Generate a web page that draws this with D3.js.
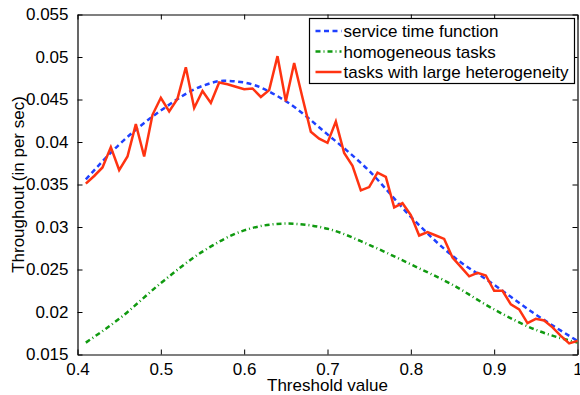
<!DOCTYPE html>
<html>
<head>
<meta charset="utf-8">
<script src="https://cdnjs.cloudflare.com/ajax/libs/d3/7.8.5/d3.min.js"></script>
<style>
body { margin: 0; background: #fff; }
svg { display: block; font-family: "Liberation Sans", Arial, sans-serif; }
</style>
</head>
<body>
<svg id="chart"></svg>
<script>
// threshold values for the measured (noisy) series, 0.41 .. 1.00
var heteroX = d3.range(41, 101).map(function(d){ return d / 100; });
var heteroY = [
  0.0351, 0.0360, 0.0370, 0.0394, 0.0367, 0.0383, 0.0421, 0.0383, 0.0432, 0.0452,
  0.0436, 0.0451, 0.0488, 0.0440, 0.0460, 0.0446, 0.0470, 0.0468, 0.0465, 0.0462,
  0.0463, 0.0453, 0.0461, 0.0501, 0.0448, 0.0493, 0.0452, 0.0412, 0.0404, 0.0399,
  0.0424, 0.0387, 0.0372, 0.0343, 0.0347, 0.0364, 0.0359, 0.0323, 0.0328, 0.0314,
  0.0290, 0.0294, 0.0290, 0.0286, 0.0264, 0.0253, 0.0242, 0.0246, 0.0243, 0.0225,
  0.0225, 0.0209, 0.0203, 0.0187, 0.0192, 0.0190, 0.0182, 0.0172, 0.0163, 0.0166
];

var serviceX = [0.41, 0.45, 0.50, 0.55, 0.575, 0.60, 0.65, 0.70, 0.75, 0.80, 0.85, 0.90, 0.95, 1.00];
var serviceY = [0.0356, 0.0397, 0.0437, 0.0466, 0.0472, 0.0470, 0.0448, 0.0409, 0.0366, 0.0312, 0.0266, 0.0232, 0.0197, 0.0166];

var homoX = [0.41, 0.45, 0.50, 0.55, 0.60, 0.65, 0.70, 0.75, 0.80, 0.85, 0.90, 0.95, 1.00];
var homoY = [0.0164, 0.0192, 0.0234, 0.0271, 0.0296, 0.0304, 0.0298, 0.0279, 0.0256, 0.0232, 0.0203, 0.0179, 0.0164];

var xTicks = [0.4, 0.5, 0.6, 0.7, 0.8, 0.9, 1];
var yTicks = [0.015, 0.02, 0.025, 0.03, 0.035, 0.04, 0.045, 0.05, 0.055];

var legendNames = ["service time function", "homogeneous tasks", "tasks with large heterogeneity"];

var W = 580, H = 395;
var pLeft = 77.5, pRight = 577.5, pTop = 14.5, pBottom = 354.5;

var svg = d3.select("#chart").attr("width", W).attr("height", H);

var x = d3.scaleLinear().domain([0.4, 1]).range([pLeft, pRight]);
var y = d3.scaleLinear().domain([0.015, 0.055]).range([pBottom, pTop]);

var fs = "17px";

// axes (matlab box style, ticks inside on all four sides)
var axB = d3.axisBottom(x).tickValues(xTicks).tickSizeInner(-5).tickSizeOuter(0).tickPadding(8)
    .tickFormat(function(d){ return d === 1 ? "1" : d3.format(".1f")(d); });
var axT = d3.axisTop(x).tickValues(xTicks).tickSizeInner(-5).tickSizeOuter(0).tickFormat("");
var axL = d3.axisLeft(y).tickValues(yTicks).tickSizeInner(-5).tickSizeOuter(0).tickPadding(9)
    .tickFormat(function(d){ return String(+d.toFixed(3)); });
var axR = d3.axisRight(y).tickValues(yTicks).tickSizeInner(-5).tickSizeOuter(0).tickFormat("");

svg.append("g").attr("transform", "translate(0," + pBottom + ")").call(axB);
svg.append("g").attr("transform", "translate(0," + pTop + ")").call(axT);
svg.append("g").attr("transform", "translate(" + pLeft + ",0)").call(axL);
svg.append("g").attr("transform", "translate(" + pRight + ",0)").call(axR);

svg.selectAll(".domain").attr("stroke", "#000").attr("stroke-width", 1.2);
svg.selectAll(".tick line").attr("stroke", "#000").attr("stroke-width", 1);
svg.selectAll(".tick text").attr("fill", "#000").style("font-size", fs)
    .style("font-family", "'Liberation Sans', Arial, sans-serif");

// lines
var line = d3.line().x(function(d){ return x(d[0]); }).y(function(d){ return y(d[1]); });

svg.append("path")
    .datum(homoX.map(function(v, i){ return [v, homoY[i]]; }))
    .attr("d", line.curve(d3.curveMonotoneX))
    .attr("fill", "none").attr("stroke", "#109a10").attr("stroke-width", 2.5)
    .attr("stroke-dasharray", "5,3,1,3");

svg.append("path")
    .datum(serviceX.map(function(v, i){ return [v, serviceY[i]]; }))
    .attr("d", line.curve(d3.curveMonotoneX))
    .attr("fill", "none").attr("stroke", "#1f40ff").attr("stroke-width", 2.5)
    .attr("stroke-dasharray", "5,3.5");

svg.append("path")
    .datum(heteroX.map(function(v, i){ return [v, heteroY[i]]; }))
    .attr("d", line.curve(d3.curveLinear))
    .attr("fill", "none").attr("stroke", "#ff3311").attr("stroke-width", 2.5)
    .attr("stroke-linejoin", "miter");

// axis labels
svg.append("text").text("Threshold value")
    .attr("x", (pLeft + pRight) / 2).attr("y", 391)
    .attr("text-anchor", "middle").style("font-size", fs);

svg.append("text").text("Throughout (in per sec)")
    .attr("transform", "translate(24," + (pTop + pBottom) / 2 + ") rotate(-90)")
    .attr("text-anchor", "middle").style("font-size", fs);

// legend
var lg = svg.append("g").attr("transform", "translate(309.5,18.5)");
lg.append("rect").attr("width", 265).attr("height", 65)
    .attr("fill", "#fff").attr("stroke", "#000").attr("stroke-width", 1.2);

var legendStyles = [
  { color: "#1f40ff", dash: "5,3.5" },
  { color: "#109a10", dash: "5,3,1,3" },
  { color: "#ff3311", dash: null }
];

legendNames.forEach(function(name, i){
  var yy = 12.5 + i * 20.5;
  lg.append("line").attr("x1", 6).attr("x2", 32).attr("y1", yy).attr("y2", yy)
      .attr("stroke", legendStyles[i].color).attr("stroke-width", 2.5)
      .attr("stroke-dasharray", legendStyles[i].dash);
  lg.append("text").text(name).attr("x", 34).attr("y", yy + 6)
      .style("font-size", fs);
});
</script>
</body>
</html>
